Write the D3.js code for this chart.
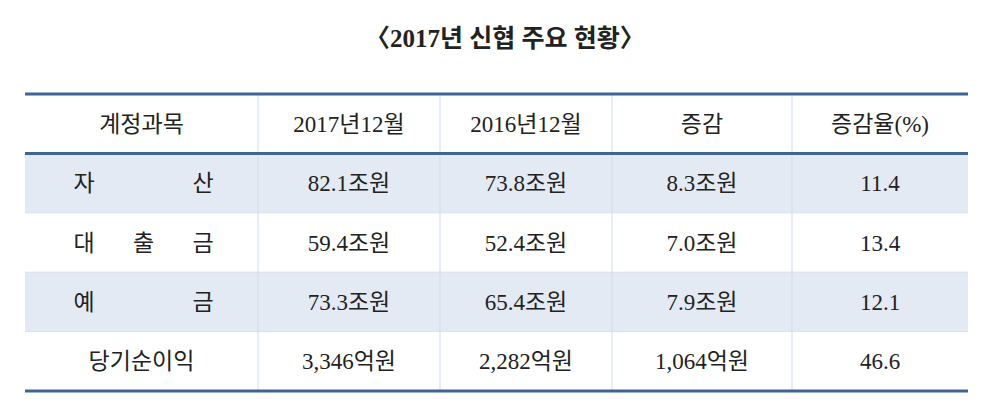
<!DOCTYPE html><html><head><meta charset="utf-8">
<script src="https://cdn.jsdelivr.net/npm/d3@7/dist/d3.min.js"></script>
<style>body{margin:0;background:#fff}</style></head><body><svg id="c" width="1000" height="414"></svg>
<script>
const title = "<2017년 신협 주요 현황>";
const headers = ["계정과목","2017년12월","2016년12월","증감","증감율(%)"];
const items = ["자산","대출금","예금","당기순이익"];
const v2017 = ["82.1조원","59.4조원","73.3조원","3,346억원"];
const v2016 = ["73.8조원","52.4조원","65.4조원","2,282억원"];
const diff = ["8.3조원","7.0조원","7.9조원","1,064억원"];
const rate = ["11.4","13.4","12.1","46.6"];

const svg = d3.select("#c");
const font = "'Liberation Serif','Noto Sans CJK KR',serif";
const colEdges = [25,258,440,612,792,968];
const y = d3.scaleBand().domain(d3.range(5)).range([94,391]);
svg.append("text").attr("x",505).attr("y",47).attr("text-anchor","middle")
  .attr("font-family",font).attr("font-weight","bold").attr("font-size",25).attr("fill","#222").text(title.replace("<","〈").replace(">","〉"));
[1,3].forEach(r=>svg.append("rect").attr("x",25).attr("y",y(r)).attr("width",943).attr("height",y.bandwidth()).attr("fill","#e4eaf3"));
[2,3,4].forEach(r=>svg.append("line").attr("x1",25).attr("x2",968).attr("y1",y(r)).attr("y2",y(r)).attr("stroke","#d6e0ec"));
colEdges.slice(1,-1).forEach(x=>svg.append("line").attr("x1",x).attr("x2",x).attr("y1",94).attr("y2",391).attr("stroke","#cfdbea"));
[94,y(1),391].forEach(yy=>svg.append("line").attr("x1",25).attr("x2",968).attr("y1",yy).attr("y2",yy).attr("stroke","#3f6496").attr("stroke-width",3));
const rows = [headers].concat(items.map((d,i)=>[d,v2017[i],v2016[i],diff[i],rate[i]]));
rows.forEach((row,r)=>{
  const cy = y(r)+y.bandwidth()/2+8;
  row.forEach((t,c)=>{
    const cx=(colEdges[c]+colEdges[c+1])/2;
    if(c===0 && r>0 && t.length<5){
      const chars=[...t]; const x0=84,x1=203;
      chars.forEach((ch,k)=>svg.append("text").attr("x",x0+(x1-x0)*k/(chars.length-1)).attr("y",cy)
        .attr("text-anchor","middle").attr("font-family",font).attr("font-size",23).attr("fill","#222").text(ch));
    } else {
      svg.append("text").attr("x",cx).attr("y",cy).attr("text-anchor","middle").attr("font-family",font)
        .attr("font-size",23).attr("fill","#222").text(t);
    }
  });
});
</script></body></html>
